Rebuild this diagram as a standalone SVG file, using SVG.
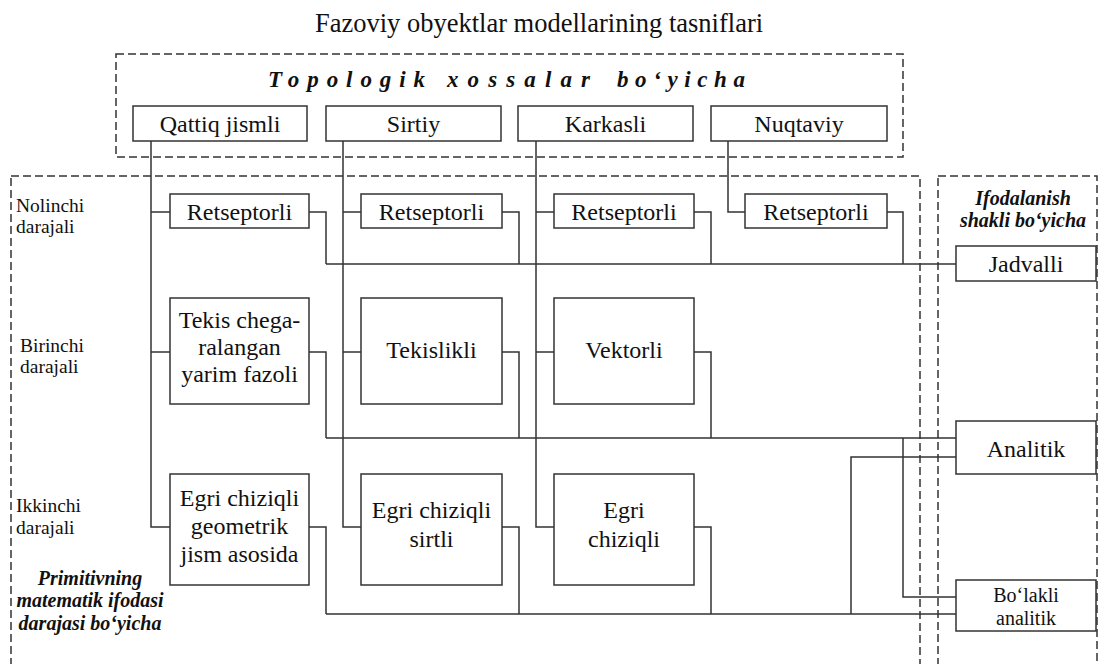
<svg xmlns="http://www.w3.org/2000/svg" width="1099" height="664" viewBox="0 0 1099 664">
<style>
.bg{fill:#fff}
.box{fill:#fff;stroke:#333;stroke-width:1.5}
.dash{fill:none;stroke:#333;stroke-width:1.5;stroke-dasharray:8 4}
.ln{fill:none;stroke:#333;stroke-width:1.5}
.t{font-family:"Liberation Serif","Times New Roman",serif;fill:#111;text-anchor:middle}
.bt{font-size:24px}
.lab{font-family:"Liberation Serif","Times New Roman",serif;fill:#111;font-size:19.5px}
.bi{font-family:"Liberation Serif","Times New Roman",serif;fill:#111;font-weight:bold;font-style:italic;font-size:20px;text-anchor:middle}
.tp{font-family:"Liberation Serif","Times New Roman",serif;fill:#111;font-weight:bold;font-style:italic;font-size:23px}
</style>
<rect class="bg" x="0" y="0" width="1099" height="664"/>
<text class="t" x="539" y="32" font-size="26.5">Fazoviy obyektlar modellarining tasniflari</text>

<g id="groups">
<rect class="dash" x="116" y="54" width="787" height="103"/>
<rect class="dash" x="11" y="176" width="909" height="500"/>
<rect class="dash" x="938" y="176" width="159" height="500"/>
<text class="tp" y="87"><tspan x="268" textLength="157" lengthAdjust="spacing">Topologik</tspan> <tspan x="447" textLength="143" lengthAdjust="spacing">xossalar</tspan> <tspan x="617" textLength="128" lengthAdjust="spacing">bo‘yicha</tspan></text>
<text class="bi" x="1023" y="205">Ifodalanish</text>
<text class="bi" x="1023" y="227">shakli bo‘yicha</text>
<text class="bi" x="90" y="585">Primitivning</text>
<text class="bi" x="90" y="607">matematik ifodasi</text>
<text class="bi" x="90" y="630">darajasi bo‘yicha</text>
<text class="lab" x="16" y="212">Nolinchi</text>
<text class="lab" x="16" y="233">darajali</text>
<text class="lab" x="20" y="352">Birinchi</text>
<text class="lab" x="20" y="373">darajali</text>
<text class="lab" x="16" y="512">Ikkinchi</text>
<text class="lab" x="16" y="534">darajali</text>
</g>

<g id="connectors">
<path class="ln" d="M151 141V527H170M151 212H170M151 352H170"/>
<path class="ln" d="M343 141V527H361M343 212H361M343 352H361"/>
<path class="ln" d="M536 141V527H554M536 212H554M536 352H554"/>
<path class="ln" d="M728 141V212H745"/>
<path class="ln" d="M309 212H326V264M502 212H519V264M694 212H711V264M887 212H903V264M326 264H956"/>
<path class="ln" d="M309 352H326V438M502 352H519V438M694 352H711V438M326 438H956"/>
<path class="ln" d="M309 527H326V614M502 527H519V614M694 527H711V614M326 614H956"/>
<path class="ln" d="M903 438V597H956"/>
<path class="ln" d="M956 457H851V614"/>
</g>

<g id="n-qattiq"><rect class="box" x="133" y="106" width="174" height="35"/><text class="t bt" x="220" y="132">Qattiq jismli</text></g>
<g id="n-sirtiy"><rect class="box" x="326" y="106" width="175" height="35"/><text class="t bt" x="413.5" y="132">Sirtiy</text></g>
<g id="n-karkasli"><rect class="box" x="518" y="106" width="175" height="35"/><text class="t bt" x="605.5" y="132">Karkasli</text></g>
<g id="n-nuqtaviy"><rect class="box" x="711" y="106" width="176" height="35"/><text class="t bt" x="799" y="132">Nuqtaviy</text></g>

<g id="n-ret1"><rect class="box" x="170" y="194" width="139" height="34"/><text class="t bt" x="239.5" y="220">Retseptorli</text></g>
<g id="n-ret2"><rect class="box" x="361" y="194" width="141" height="34"/><text class="t bt" x="431.5" y="220">Retseptorli</text></g>
<g id="n-ret3"><rect class="box" x="554" y="194" width="140" height="34"/><text class="t bt" x="624" y="220">Retseptorli</text></g>
<g id="n-ret4"><rect class="box" x="745" y="194" width="142" height="34"/><text class="t bt" x="816" y="220">Retseptorli</text></g>

<g id="n-tekis"><rect class="box" x="170" y="298" width="139" height="106"/><text class="t bt" x="239.5" y="328">Tekis chega-</text><text class="t bt" x="239.5" y="355">ralangan</text><text class="t bt" x="239.5" y="382">yarim fazoli</text></g>
<g id="n-tekislikli"><rect class="box" x="361" y="298" width="141" height="106"/><text class="t bt" x="431.5" y="358">Tekislikli</text></g>
<g id="n-vektorli"><rect class="box" x="554" y="298" width="140" height="106"/><text class="t bt" x="624" y="358">Vektorli</text></g>

<g id="n-egri1"><rect class="box" x="170" y="474" width="139" height="111"/><text class="t bt" x="239.5" y="506">Egri chiziqli</text><text class="t bt" x="239.5" y="534">geometrik</text><text class="t bt" x="239.5" y="562">jism asosida</text></g>
<g id="n-egri2"><rect class="box" x="361" y="474" width="141" height="111"/><text class="t bt" x="431.5" y="518">Egri chiziqli</text><text class="t bt" x="431.5" y="547">sirtli</text></g>
<g id="n-egri3"><rect class="box" x="554" y="474" width="140" height="111"/><text class="t bt" x="624" y="518">Egri</text><text class="t bt" x="624" y="547">chiziqli</text></g>

<g id="n-jadvalli"><rect class="box" x="956" y="246" width="140" height="35"/><text class="t bt" x="1026" y="272">Jadvalli</text></g>
<g id="n-analitik"><rect class="box" x="956" y="421" width="140" height="53"/><text class="t bt" x="1026" y="457">Analitik</text></g>
<g id="n-bolakli"><rect class="box" x="956" y="580" width="140" height="51"/><text class="t" x="1026" y="602" font-size="20">Bo‘lakli</text><text class="t" x="1026" y="625" font-size="20">analitik</text></g>
</svg>
